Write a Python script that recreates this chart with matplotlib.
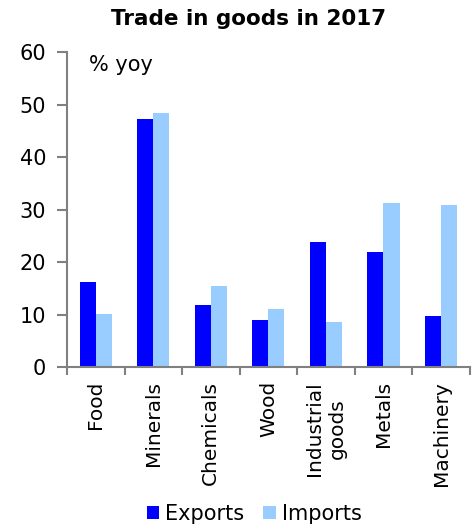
import matplotlib.pyplot as plt
import numpy as np

categories = ["Food", "Minerals", "Chemicals", "Wood", "Industrial\ngoods", "Metals", "Machinery"]
exports = [16.2, 47.2, 11.9, 9.0, 23.9, 22.0, 9.7]
imports = [10.2, 48.5, 15.4, 11.1, 8.6, 31.2, 30.9]

plt.rcParams['font.family'] = ['Verdana', 'DejaVu Sans']

fig = plt.figure(figsize=(4.75, 5.32), dpi=100)
ax = fig.add_axes([0.141, 0.310, 0.848, 0.592])

x = np.arange(len(categories))
w = 0.28
ax.bar(x - w / 2, exports, w, color="#0000ff", label="Exports")
ax.bar(x + w / 2, imports, w, color="#99ccff", label="Imports")

# decorate the plot
ax.set_xlim(-0.5, len(categories) - 0.5)
ax.set_ylim(0, 60)
ax.set_yticks(range(0, 61, 10))
ax.set_xticks(x)
ax.set_xticklabels(categories, rotation=90, fontsize=14.5, va="top", ha="center")
ax.set_xticks(np.arange(-0.5, len(categories)), minor=True)
ax.tick_params(axis="x", which="major", length=0, pad=10)
ax.tick_params(axis="x", which="minor", length=6, width=1.5, color="#808080")
ax.tick_params(axis="y", length=7, width=1.5, color="#808080", labelsize=15, pad=8)
for side in ["top", "right"]:
    ax.spines[side].set_visible(False)
for side in ["left", "bottom"]:
    ax.spines[side].set_color("#808080")
    ax.spines[side].set_linewidth(1.5)

ax.text(0.055, 0.99, "% yoy", transform=ax.transAxes, fontsize=15, va="top")
fig.suptitle("Trade in goods in 2017", fontsize=15.5, fontweight="bold", x=0.523, y=0.983)
fig.legend(loc="lower center", ncol=2, frameon=False, fontsize=15,
           bbox_to_anchor=(0.535, -0.02), handlelength=0.6, handleheight=0.6,
           handletextpad=0.3, columnspacing=0.9)

fig.savefig("out.png", dpi=100)
